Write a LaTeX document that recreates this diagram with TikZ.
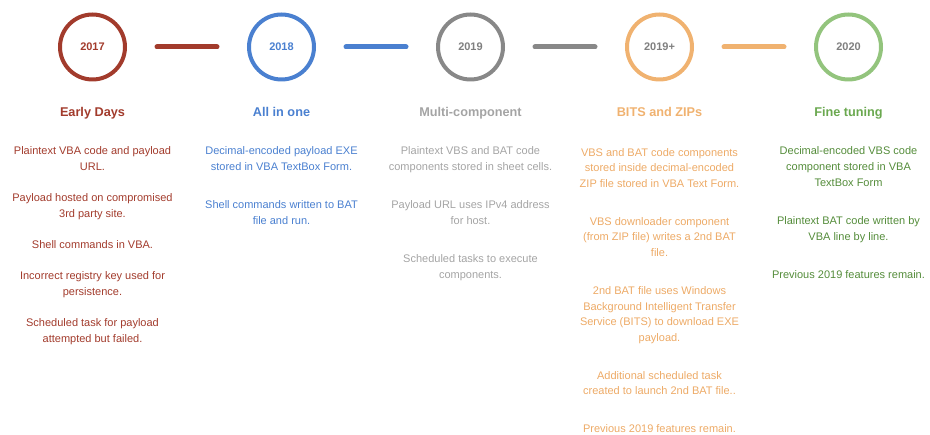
\documentclass[tikz,border=0pt]{standalone}
\usepackage{fontspec}
\setmainfont{Liberation Sans}
\usetikzlibrary{positioning}
\definecolor{early}{HTML}{A23B2C}
\definecolor{allone}{HTML}{4A80D0}
\definecolor{multi}{HTML}{888888}
\definecolor{multitxt}{HTML}{A4A4A4}
\definecolor{bits}{HTML}{F0B270}
\definecolor{bitstxt}{HTML}{EDAA66}
\definecolor{fine}{HTML}{93C47D}
\definecolor{finehead}{HTML}{6AA84F}
\definecolor{finetxt}{HTML}{548C3A}
\definecolor{yeargray}{HTML}{7F7F7F}

\begin{document}
\begin{tikzpicture}[x=1pt,y=-1pt,node distance=189pt,
  year/.style={circle,draw,line width=4pt,minimum size=65pt,inner sep=0pt,font=\fontsize{11}{12}\selectfont\bfseries},
  link/.style={line width=5pt,line cap=round,shorten <=30pt,shorten >=30pt},
  title/.style={anchor=base,inner sep=0pt,font=\fontsize{12.7}{15}\selectfont\bfseries},
  notes/.style={align=center,anchor=north,inner sep=0pt,font=\fontsize{11}{16}\selectfont}]
\useasboundingbox (0,0) rectangle (930,435);

\node[year,draw=early,text=early] (Y1) at (92.5,47) {2017};
\node[year,draw=allone,text=allone] (Y2) [right of=Y1] {2018};
\node[year,draw=multi,text=yeargray] (Y3) [right of=Y2] {2019};
\node[year,draw=bits,text=yeargray] (Y4) [right of=Y3] {2019+};
\node[year,draw=fine,text=yeargray] (Y5) [right of=Y4] {2020};

\draw[link,early] (Y1) -- (Y2);
\draw[link,allone] (Y2) -- (Y3);
\draw[link,multi] (Y3) -- (Y4);
\draw[link,bits] (Y4) -- (Y5);

\node[title,text=early] (T1) at (Y1.center |- 0,116.5) {Early Days};
\node[title,text=allone] (T2) at (Y2.center |- 0,116.5) {All in one};
\node[title,text=multitxt] (T3) at (Y3.center |- 0,116.5) {Multi-component};
\node[title,text=bits] (T4) at (Y4.center |- 0,116.5) {BITS and ZIPs};
\node[title,text=finehead] (T5) at (Y5.center |- 0,116.5) {Fine tuning};

\node[notes,text=early] (N1) at (Y1.center |- 0,146) {%
  Plaintext VBA code and payload\\URL.\\[15pt]
  Payload hosted on compromised\\3rd party site.\\[15pt]
  Shell commands in VBA.\\[15pt]
  Incorrect registry key used for\\persistence.\\[15pt]
  Scheduled task for payload\\attempted but failed.};
\node[notes,text=allone] (N2) at (Y2.center |- 0,146) {%
  Decimal-encoded payload EXE\\stored in VBA TextBox Form.\\[22pt]
  Shell commands written to BAT\\file and run.};
\node[notes,text=multitxt] (N3) at (Y3.center |- 0,146) {%
  Plaintext VBS and BAT code\\components stored in sheet cells.\\[22pt]
  Payload URL uses IPv4 address\\for host.\\[22pt]
  Scheduled tasks to execute\\components.};
\node[notes,text=bitstxt,font=\fontsize{11}{15.7}\selectfont] (N4) at (Y4.center |- 0,148) {%
  VBS and BAT code components\\stored inside decimal-encoded\\ZIP file stored in VBA Text Form.\\[22pt]
  VBS downloader component\\(from ZIP file) writes a 2nd BAT\\file.\\[22pt]
  2nd BAT file uses Windows\\Background Intelligent Transfer\\Service (BITS) to download EXE\\payload.\\[22pt]
  Additional scheduled task\\created to launch 2nd BAT file..\\[22pt]
  Previous 2019 features remain.};
\node[notes,text=finetxt] (N5) at (Y5.center |- 0,146) {%
  Decimal-encoded VBS code\\component stored in VBA\\TextBox Form\\[22pt]
  Plaintext BAT code written by\\VBA line by line.\\[22pt]
  Previous 2019 features remain.};
\end{tikzpicture}
\end{document}
